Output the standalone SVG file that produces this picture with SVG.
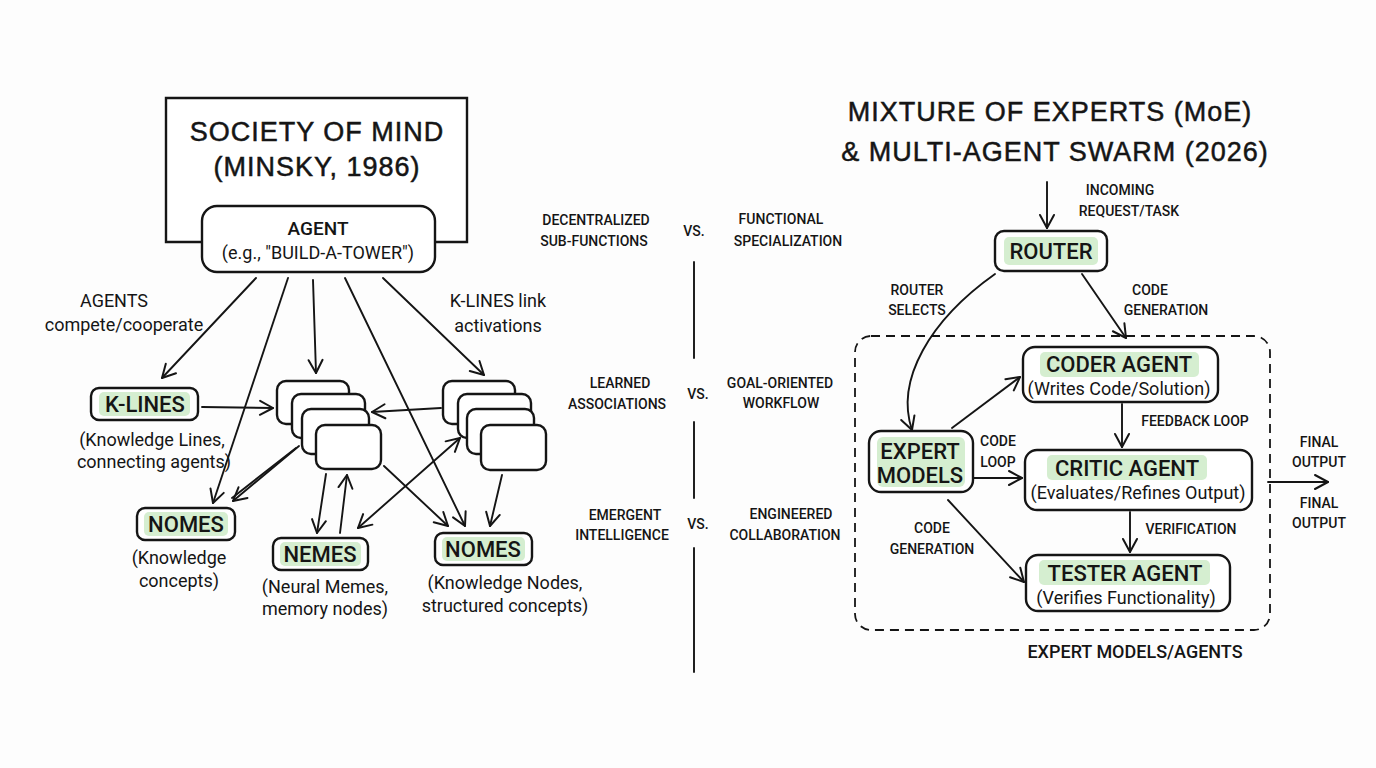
<svg xmlns="http://www.w3.org/2000/svg" width="1376" height="768" viewBox="0 0 1376 768">
<defs>
<marker id="ah" viewBox="-15 -9 18 18" refX="0" refY="0" markerWidth="18" markerHeight="18" orient="auto-start-reverse" markerUnits="userSpaceOnUse">
<path d="M-13,-7 L0,0 L-13,7" fill="none" stroke="#151515" stroke-width="2" stroke-linecap="round" stroke-linejoin="round"/>
</marker>
<style>
.bx{fill:#fff;stroke:#151515;stroke-width:2.4}
.hl{fill:#d5eed0}
.t{font-family:Roboto,"Liberation Sans","Noto Sans",sans-serif;fill:#151515;text-anchor:middle}
.title{font-family:"Liberation Sans",sans-serif;font-size:27px;letter-spacing:1px;stroke:#151515;stroke-width:0.5}
.nt{font-size:22px;font-weight:500}
.sub{font-size:18px}
.lb{font-size:14px;font-weight:500}
.c{fill:none;stroke:#151515;stroke-width:1.9;stroke-linecap:round}
.ca{fill:none;stroke:#151515;stroke-width:1.9;stroke-linecap:round;marker-end:url(#ah)}
</style>
</defs>
<rect width="1376" height="768" fill="#fdfdfd"/>

<!-- LEFT -->
<g id="title-left">
<path d="M203,242 L166,242 L166,98 L467,98 L467,242 L436,242" class="bx" fill="none"/>
<text class="t title" x="317" y="141">SOCIETY OF MIND</text>
<text class="t title" x="317" y="176">(MINSKY, 1986)</text>
</g>
<g id="agent">
<rect class="bx" x="202" y="206" width="233" height="66" rx="15"/>
<text class="t sub" x="318" y="235" style="font-weight:500;font-size:19px">AGENT</text>
<text class="t sub" x="318" y="259">(e.g., "BUILD-A-TOWER")</text>
</g>
<g id="klines">
<rect class="bx" x="91" y="388" width="107" height="32" rx="8"/>
<rect class="hl" x="99" y="392" width="91" height="24" rx="5"/>
<text class="t nt" x="145" y="412">K-LINES</text>
<text class="t sub" x="152" y="446">(Knowledge Lines,</text>
<text class="t sub" x="154" y="468">connecting agents)</text>
</g>
<g id="stack1">
<rect class="bx" x="277" y="381" width="72" height="43" rx="9"/>
<rect class="bx" x="292" y="394" width="73" height="44" rx="9"/>
<rect class="bx" x="302" y="409" width="67" height="45" rx="9"/>
<rect class="bx" x="316" y="425" width="65" height="44" rx="9"/>
</g>
<g id="stack2">
<rect class="bx" x="443" y="381" width="72" height="43" rx="9"/>
<rect class="bx" x="458" y="394" width="73" height="44" rx="9"/>
<rect class="bx" x="467" y="409" width="67" height="45" rx="9"/>
<rect class="bx" x="481" y="425" width="65" height="45" rx="9"/>
</g>
<g id="nomes-left">
<rect class="bx" x="137" y="508" width="98" height="32" rx="8"/>
<rect class="hl" x="144" y="512" width="84" height="24" rx="5"/>
<text class="t nt" x="186" y="532">NOMES</text>
<text class="t sub" x="179" y="564">(Knowledge</text>
<text class="t sub" x="179" y="587">concepts)</text>
</g>
<g id="nemes">
<rect class="bx" x="273" y="538" width="95" height="32" rx="8"/>
<rect class="hl" x="280" y="542" width="81" height="24" rx="5"/>
<text class="t nt" x="320" y="562">NEMES</text>
<text class="t sub" x="325" y="593">(Neural Memes,</text>
<text class="t sub" x="325" y="615">memory nodes)</text>
</g>
<g id="nomes-right">
<rect class="bx" x="435" y="533" width="97" height="32" rx="8"/>
<rect class="hl" x="442" y="537" width="83" height="24" rx="5"/>
<text class="t nt" x="483" y="557">NOMES</text>
<text class="t sub" x="505" y="589">(Knowledge Nodes,</text>
<text class="t sub" x="505" y="612">structured concepts)</text>
</g>
<g id="left-labels">
<text class="t sub" x="114" y="307">AGENTS</text>
<text class="t sub" x="124" y="331">compete/cooperate</text>
<text class="t sub" x="498" y="307">K-LINES link</text>
<text class="t sub" x="498" y="332">activations</text>
</g>

<g id="connectors-left">
<line class="ca" x1="256" y1="278" x2="162" y2="378"/>
<line class="ca" x1="288" y1="278" x2="213" y2="503"/>
<line class="ca" x1="313" y1="280" x2="316" y2="373"/>
<line class="ca" x1="345" y1="278" x2="465" y2="526"/>
<line class="ca" x1="383" y1="278" x2="484" y2="375"/>
<line class="ca" x1="202" y1="407" x2="273" y2="408"/>
<line class="ca" x1="441" y1="408" x2="372" y2="412"/>
<line class="ca" x1="299" y1="446" x2="233" y2="501"/>
<line class="c" x1="296" y1="448" x2="232" y2="498"/>
<line class="ca" x1="326" y1="474" x2="317" y2="533"/>
<line class="ca" x1="340" y1="533" x2="347" y2="475"/>
<line class="ca" x1="384" y1="466" x2="448" y2="526"/>
<line class="ca" x1="502" y1="475" x2="490" y2="526"/>
<path class="ca" d="M358,528 L460,438" style="marker-start:url(#ah)"/>
</g>

<!-- MIDDLE -->
<g id="comparisons">
<text class="t lb" x="596" y="225">DECENTRALIZED</text>
<text class="t lb" x="594" y="246">SUB-FUNCTIONS</text>
<text class="t lb" x="694" y="236">VS.</text>
<text class="t lb" x="781" y="224">FUNCTIONAL</text>
<text class="t lb" x="788" y="246">SPECIALIZATION</text>
<line class="c" x1="694" y1="262" x2="694" y2="358"/>
<text class="t lb" x="620" y="388">LEARNED</text>
<text class="t lb" x="617" y="409">ASSOCIATIONS</text>
<text class="t lb" x="698" y="399">VS.</text>
<text class="t lb" x="780" y="388">GOAL-ORIENTED</text>
<text class="t lb" x="781" y="408">WORKFLOW</text>
<line class="c" x1="694" y1="422" x2="694" y2="498"/>
<text class="t lb" x="625" y="520">EMERGENT</text>
<text class="t lb" x="622" y="540">INTELLIGENCE</text>
<text class="t lb" x="698" y="529">VS.</text>
<text class="t lb" x="791" y="519">ENGINEERED</text>
<text class="t lb" x="785" y="540">COLLABORATION</text>
<line class="c" x1="694" y1="548" x2="694" y2="672"/>
</g>

<!-- RIGHT -->
<g id="title-right">
<text class="t title" x="1050" y="121">MIXTURE OF EXPERTS (MoE)</text>
<text class="t title" x="1055" y="161">&amp; MULTI-AGENT SWARM (2026)</text>
</g>
<g id="group-box">
<rect x="855" y="336" width="415" height="294" rx="16" fill="none" stroke="#151515" stroke-width="1.8" stroke-dasharray="9 6"/>
<text class="t sub" x="1135" y="658" style="font-weight:500">EXPERT MODELS/AGENTS</text>
</g>
<g id="router">
<rect class="bx" x="995" y="231" width="112" height="40" rx="9"/>
<rect class="hl" x="1004" y="237" width="94" height="28" rx="5"/>
<text class="t nt" x="1051" y="259">ROUTER</text>
</g>
<g id="coder">
<rect class="bx" x="1023" y="347" width="195" height="55" rx="12"/>
<rect class="hl" x="1040" y="352" width="159" height="25" rx="5"/>
<text class="t nt" x="1119" y="372">CODER AGENT</text>
<text class="t sub" x="1119" y="395">(Writes Code/Solution)</text>
</g>
<g id="expert">
<rect class="bx" x="869" y="431" width="104" height="61" rx="12"/>
<rect class="hl" x="877" y="437" width="88" height="50" rx="6"/>
<text class="t nt" x="920" y="459">EXPERT</text>
<text class="t nt" x="920" y="483">MODELS</text>
</g>
<g id="critic">
<rect class="bx" x="1025" y="450" width="227" height="60" rx="12"/>
<rect class="hl" x="1047" y="455" width="160" height="25" rx="5"/>
<text class="t nt" x="1127" y="476">CRITIC AGENT</text>
<text class="t sub" x="1138" y="499">(Evaluates/Refines Output)</text>
</g>
<g id="tester">
<rect class="bx" x="1026" y="555" width="204" height="56" rx="12"/>
<rect class="hl" x="1039" y="560" width="171" height="25" rx="5"/>
<text class="t nt" x="1125" y="581">TESTER AGENT</text>
<text class="t sub" x="1126" y="604">(Verifies Functionality)</text>
</g>
<g id="right-labels">
<text class="t lb" x="1120" y="195">INCOMING</text>
<text class="t lb" x="1129" y="216">REQUEST/TASK</text>
<text class="t lb" x="917" y="295">ROUTER</text>
<text class="t lb" x="917" y="315">SELECTS</text>
<text class="t lb" x="1150" y="295">CODE</text>
<text class="t lb" x="1166" y="315">GENERATION</text>
<text class="t lb" x="998" y="446">CODE</text>
<text class="t lb" x="998" y="467">LOOP</text>
<text class="t lb" x="1195" y="426">FEEDBACK LOOP</text>
<text class="t lb" x="1191" y="534">VERIFICATION</text>
<text class="t lb" x="932" y="533">CODE</text>
<text class="t lb" x="932" y="554">GENERATION</text>
<text class="t lb" x="1319" y="447">FINAL</text>
<text class="t lb" x="1319" y="467">OUTPUT</text>
<text class="t lb" x="1319" y="508">FINAL</text>
<text class="t lb" x="1319" y="528">OUTPUT</text>
</g>
<g id="connectors-right">
<line class="ca" x1="1047" y1="182" x2="1047" y2="228"/>
<path class="ca" d="M995,274 C930,320 895,380 912,430"/>
<line class="ca" x1="1082" y1="274" x2="1126" y2="338"/>
<line class="ca" x1="952" y1="428" x2="1020" y2="377"/>
<line class="ca" x1="974" y1="478" x2="1022" y2="478"/>
<line class="ca" x1="1122" y1="404" x2="1122" y2="447"/>
<line class="ca" x1="1130" y1="512" x2="1130" y2="552"/>
<line class="ca" x1="948" y1="500" x2="1024" y2="582"/>
<line class="ca" x1="1268" y1="482" x2="1328" y2="482"/>
</g>
</svg>
